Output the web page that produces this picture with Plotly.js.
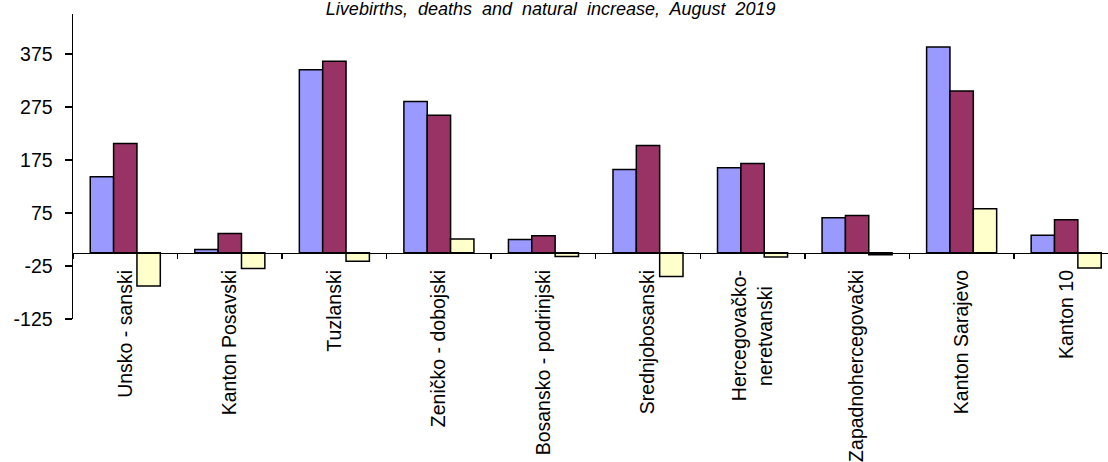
<!DOCTYPE html>
<html>
<head>
<meta charset="utf-8">
<script src="https://cdn.plot.ly/plotly-3.0.1.min.js"></script>
<style>html,body{margin:0;padding:0;background:#fff;}#chart{width:1108px;height:462px;}</style>
</head>
<body>
<div id="chart"></div>
<script>
const categories = [
  "Unsko - sanski",
  "Kanton Posavski",
  "Tuzlanski",
  "Zeničko - dobojski",
  "Bosansko - podrinjski",
  "Srednjobosanski",
  "Hercegovačko-<br>neretvanski\u00A0\u00A0\u00A0",
  "Zapadnohercegovački",
  "Kanton Sarajevo",
  "Kanton 10"
];
const livebirths = [143, 6, 345, 285, 25, 157, 160, 66, 388, 33];
const deaths = [206, 36, 361, 259, 32, 202, 168, 70, 305, 62];
const naturalIncrease = [-63, -30, -16, 26, -7, -45, -8, -4, 83, -29];
const yTicks = [-125, -25, 75, 175, 275, 375];
const yRange = [-125, 450];

const FONT = '"Liberation Sans", Arial, sans-serif';
const lineStyle = {color: '#000000', width: 1.5};

const traces = [
  {type: 'bar', name: 'Livebirths', x: categories, y: livebirths,
   marker: {color: '#9999FF', line: lineStyle}},
  {type: 'bar', name: 'Deaths', x: categories, y: deaths,
   marker: {color: '#993366', line: lineStyle}},
  {type: 'bar', name: 'Natural increase', x: categories, y: naturalIncrease,
   marker: {color: '#FFFFCC', line: lineStyle}}
];

const zeroPos = -yRange[0] / (yRange[1] - yRange[0]);

const layout = {
  width: 1108, height: 462,
  margin: {l: 73, r: 0, t: 14, b: 143, pad: 0},
  paper_bgcolor: '#ffffff', plot_bgcolor: '#ffffff',
  showlegend: false,
  barmode: 'group', bargap: 0.33, bargroupgap: 0,
  font: {family: FONT, color: '#000000', size: 19.5},
  title: {
    text: '<i>Livebirths,  deaths  and  natural  increase,  August  2019</i>',
    font: {family: FONT, size: 18, color: '#000000'},
    xref: 'container', x: 0.497, xanchor: 'center',
    yref: 'container', y: 0.968, yanchor: 'bottom'
  },
  xaxis: {
    type: 'category',
    range: [-0.5, 9.4],
    anchor: 'free', position: zeroPos,
    showline: true, linecolor: '#000000', linewidth: 1.5,
    ticks: 'outside', ticklen: 5, tickwidth: 1.5, tickcolor: '#000000',
    tickson: 'boundaries',
    tickangle: -90,
    ticklabelstandoff: 8,
    tickfont: {family: FONT, size: 19.5, color: '#000000'},
    showgrid: false, zeroline: false, automargin: false,
    fixedrange: true
  },
  yaxis: {
    range: yRange,
    tickmode: 'array', tickvals: yTicks, ticktext: yTicks.map(String),
    showline: true, linecolor: '#000000', linewidth: 1.5,
    ticks: 'outside', ticklen: 7, tickwidth: 1.5, tickcolor: '#000000',
    ticklabelstandoff: 8,
    tickfont: {family: FONT, size: 19.5, color: '#000000'},
    showgrid: false, zeroline: false, automargin: false,
    fixedrange: true
  }
};

Plotly.newPlot('chart', traces, layout, {staticPlot: true, displayModeBar: false});
</script>
</body>
</html>
